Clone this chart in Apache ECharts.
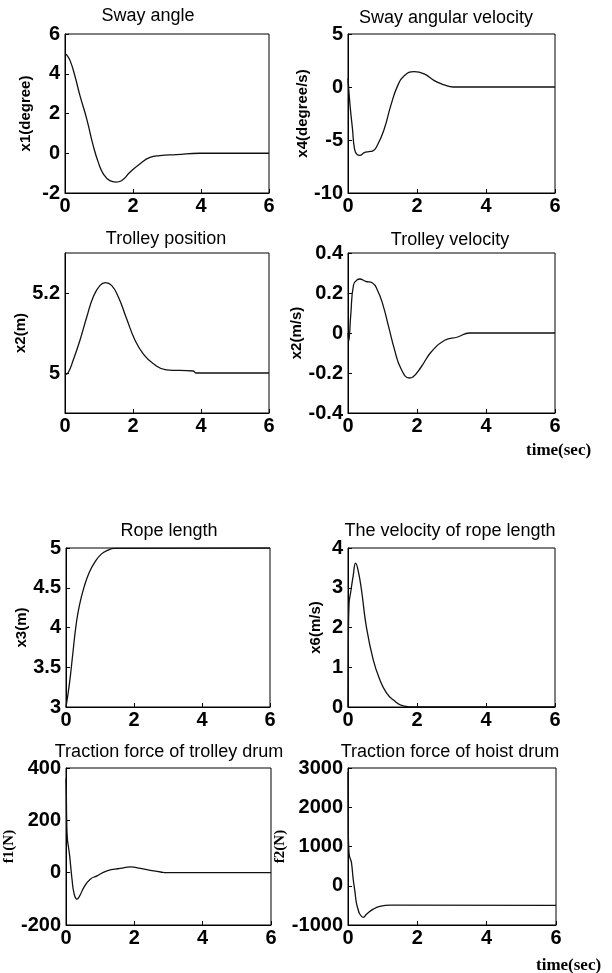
<!DOCTYPE html>
<html>
<head>
<meta charset="utf-8">
<title>crane simulation</title>
<script src="https://cdn.jsdelivr.net/npm/echarts@6.0.0/dist/echarts.min.js"></script>
<style>
    html, body { margin: 0; padding: 0; background: #fff; }
    #main { width: 612px; height: 973px; }
</style>
</head>
<body>
<div id="main"></div>
<script>
// 时间轴刻度
var timeTicks = [0, 2, 4, 6];

// Sway angle
var swayT = [0, 0.05, 0.15, 0.29, 0.44, 0.64, 0.83, 0.98, 1.13, 1.32, 1.5, 1.66, 1.91, 2.2, 2.5, 2.79, 3.28, 3.96, 6];
var swayV = [5.0, 4.95, 4.66, 3.9, 2.9, 1.72, 0.38, -0.46, -1.05, -1.38, -1.45, -1.38, -0.96, -0.54, -0.21, -0.12, -0.07, 0, 0];

// Sway angular velocity
var swayVelT = [0, 0.06, 0.13, 0.19, 0.27, 0.34, 0.47, 0.6, 0.71, 0.85, 1.05, 1.24, 1.44, 1.63, 1.92, 2.21, 2.5, 2.8, 3.04, 6];
var swayVelV = [0.8, -1.76, -3.96, -5.85, -6.4, -6.45, -6.2, -6.1, -6.05, -5.5, -3.96, -1.76, 0.13, 1.07, 1.45, 1.23, 0.6, 0.19, 0, 0];

// Trolley position
var posT = [0, 0.1, 0.24, 0.44, 0.64, 0.83, 1.03, 1.19, 1.37, 1.57, 1.81, 2.06, 2.3, 2.6, 2.98, 3.77, 3.86, 6];
var posV = [4.995, 5.002, 5.032, 5.082, 5.14, 5.19, 5.219, 5.226, 5.219, 5.19, 5.136, 5.082, 5.048, 5.023, 5.008, 5.005, 5.0, 5.0];
var posTicks = [5, 5.2];

// Trolley velocity
var velT = [0, 0.02, 0.08, 0.16, 0.27, 0.34, 0.51, 0.71, 0.85, 1.0, 1.19, 1.34, 1.54, 1.78, 1.88, 2.12, 2.41, 2.8, 3.18, 3.52, 6];
var velV = [0, -0.04, 0.09, 0.24, 0.267, 0.27, 0.258, 0.25, 0.215, 0.148, 0.023, -0.078, -0.18, -0.225, -0.22, -0.17, -0.095, -0.036, -0.02, 0, 0];

// Rope length
var ropeT = [0, 0.1, 0.2, 0.29, 0.39, 0.54, 0.68, 0.83, 1.03, 1.22, 1.42, 6];
var ropeV = [3.0, 3.29, 3.67, 4.01, 4.27, 4.52, 4.69, 4.81, 4.92, 4.97, 4.995, 5.0];

// The velocity of rope length
var ropeVelT = [0, 0.01, 0.03, 0.08, 0.15, 0.22, 0.29, 0.39, 0.53, 0.73, 0.92, 1.12, 1.31, 1.6, 1.94, 6];
var ropeVelV = [0, 1.7, 2.6, 2.9, 3.3, 3.62, 3.45, 2.95, 2.03, 1.19, 0.69, 0.35, 0.18, 0.03, 0, 0];

// Traction force of trolley drum
var f1T = [0, 0.01, 0.02, 0.04, 0.07, 0.107, 0.176, 0.24, 0.32, 0.4, 0.52, 0.71, 0.91, 1.2, 1.59, 1.89, 2.18, 2.47, 2.77, 2.96, 6];
var f1V = [360, 300, 200, 130, 100, 64, -25, -82, -101, -89, -57, -25, -12, 7, 16, 22, 16, 9, 2.5, 0, 0];

// Traction force of hoist drum
var f2T = [0, 0.01, 0.02, 0.04, 0.07, 0.1, 0.15, 0.2, 0.24, 0.29, 0.34, 0.44, 0.54, 0.73, 0.92, 1.21, 1.5, 6];
var f2V = [2900, 1300, 1000, 760, 680, 590, 170, -150, -425, -600, -720, -805, -720, -594, -526, -493, -495, -500];

var SANS = '"Liberation Sans", Arial, sans-serif';
var SERIF = '"Liberation Serif", "Times New Roman", serif';

// 每个子图的位置和坐标轴
var panels = [
    {title: 'Sway angle', tx: 148, ty: 7, grid: [65, 34, 204, 159], t: swayT, v: swayV,
        min: -2, max: 6, interval: 2, name: 'x1(degree)', gap: 32},
    {title: 'Sway angular velocity', tx: 446, ty: 9, grid: [348, 34, 207, 159], t: swayVelT, v: swayVelV,
        min: -10, max: 5, interval: 5, name: 'x4(degree/s)', gap: 26},
    {title: 'Trolley position', tx: 166, ty: 230, grid: [65, 253, 204, 160], t: posT, v: posV,
        min: 4.9, max: 5.3, custom: posTicks, name: 'x2(m)', gap: 25},
    {title: 'Trolley velocity', tx: 450, ty: 231, grid: [348, 253, 207, 160], t: velT, v: velV,
        min: -0.4, max: 0.4, interval: 0.2, name: 'x2(m/s)', gap: 29},
    {title: 'Rope length', tx: 169, ty: 522, grid: [66, 548, 204, 159], t: ropeT, v: ropeV,
        min: 3, max: 5, interval: 0.5, name: 'x3(m)', gap: 30},
    {title: 'The velocity of rope length', tx: 450, ty: 522, grid: [348, 548, 207, 159], t: ropeVelT, v: ropeVelV,
        min: 0, max: 4, interval: 1, name: 'x6(m/s)', gap: 25},
    {title: 'Traction force of trolley drum', tx: 169, ty: 743, grid: [66, 768, 205, 157], t: f1T, v: f1V,
        min: -200, max: 400, interval: 200, name: 'f1(N)', gap: 33, serif: true},
    {title: 'Traction force of hoist drum', tx: 450, ty: 743, grid: [348, 768, 208, 157], t: f2T, v: f2V,
        min: -1000, max: 3000, interval: 1000, name: 'f2(N)', gap: 44, serif: true}
];

var option = {
    backgroundColor: '#fff',
    animation: false,
    title: [], grid: [], xAxis: [], yAxis: [], series: [],
    graphic: [
        {type: 'text', left: 526, top: 442, style: {text: 'time(sec)', font: 'bold 17px ' + SERIF, fill: '#000'}},
        {type: 'text', left: 536, top: 957, style: {text: 'time(sec)', font: 'bold 17px ' + SERIF, fill: '#000'}}
    ]
};

var tickLabel = {color: '#000', fontSize: 20, fontWeight: 'bold', fontFamily: SANS};

panels.forEach(function (p, i) {
    option.title.push({
        text: p.title, left: p.tx, top: p.ty, textAlign: 'center', padding: 0,
        textStyle: {fontSize: 18, fontWeight: 'normal', fontFamily: SANS, color: '#000'}
    });
    option.grid.push({
        left: p.grid[0], top: p.grid[1], width: p.grid[2], height: p.grid[3],
        show: true, borderColor: '#000', borderWidth: 1, backgroundColor: '#fff'
    });
    option.xAxis.push({
        type: 'value', gridIndex: i, min: 0, max: 6, interval: 2,
        axisLine: {show: true, onZero: false, lineStyle: {color: '#000'}},
        axisTick: {show: true, inside: true, length: 4, lineStyle: {color: '#000'}},
        axisLabel: Object.assign({margin: 3}, tickLabel),
        splitLine: {show: false}
    });
    var y = {
        type: 'value', gridIndex: i, min: p.min, max: p.max,
        name: p.name, nameLocation: 'middle', nameGap: p.gap,
        nameTextStyle: {fontSize: 15, fontWeight: 'bold', color: '#000', fontFamily: p.serif ? SERIF : SANS},
        axisLine: {show: true, onZero: false, lineStyle: {color: '#000'}},
        axisTick: {show: true, inside: true, length: 4, lineStyle: {color: '#000'}},
        axisLabel: Object.assign({margin: 5, formatter: function (v) { return String(+v.toFixed(4)); }}, tickLabel),
        splitLine: {show: false}
    };
    if (p.custom) {
        y.axisLabel.customValues = p.custom;
        y.axisTick.customValues = p.custom;
    } else {
        y.interval = p.interval;
    }
    option.yAxis.push(y);
    var data = [];
    for (var k = 0; k < p.t.length; k++) {
        data.push([p.t[k], p.v[k]]);
    }
    option.series.push({
        type: 'line', xAxisIndex: i, yAxisIndex: i, data: data,
        showSymbol: false, smooth: 0.5,
        lineStyle: {color: '#111', width: 1.3}
    });
});

var chart = echarts.init(document.getElementById('main'), null, {renderer: 'canvas'});
chart.setOption(option);
</script>
</body>
</html>
